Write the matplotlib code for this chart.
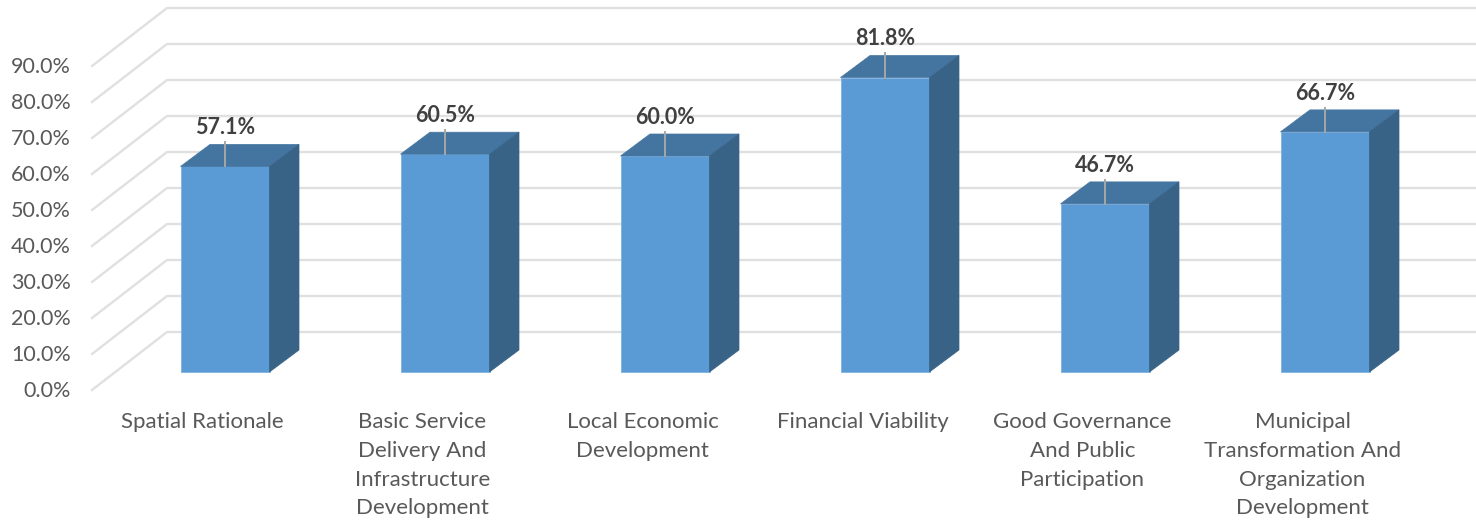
import matplotlib
matplotlib.use("Agg")
import matplotlib.pyplot as plt
from matplotlib.patches import Polygon

categories = [
    "Spatial Rationale",
    "Basic Service\nDelivery And\nInfrastructure\nDevelopment",
    "Local Economic\nDevelopment",
    "Financial Viability",
    "Good Governance\nAnd Public\nParticipation",
    "Municipal\nTransformation And\nOrganization\nDevelopment",
]
values = [57.1, 60.5, 60.0, 81.8, 46.7, 66.7]
tick_values = [0, 10, 20, 30, 40, 50, 60, 70, 80, 90]

FRONT = "#5b9bd5"
TOP = "#4475a1"
SIDE = "#386286"
GRID = "#e0e0e0"
TICK_TEXT = "#595959"
LABEL_TEXT = "#404040"

plt.rcParams["font.family"] = ["Lato", "DejaVu Sans"]

W, H = 1476, 522
fig = plt.figure(figsize=(W / 100, H / 100), dpi=100)
ax = fig.add_axes([0, 0, 1, 1])
ax.axis("off")

# One category step is 220 px and one percentage point is 3.6 px.
x_step, y_step = 220.0, 3.6
x0_px, y0_px = 225.0, 372.0
ax.set_xlim(-x0_px / x_step, (W - x0_px) / x_step)
ax.set_ylim((y0_px - H) / y_step, y0_px / y_step)

half_width = 44.5 / x_step
depth_x, depth_y = 29.5 / x_step, 22.0 / y_step

# Back wall gridlines with their slanted run along the side wall.
wall_left = -58.0 / x_step
wall_right = (1476 - x0_px) / x_step
wall_rise = 40.0 / y_step
side_dx, side_dy = 75.0 / x_step, 58.0 / y_step
for t in tick_values:
    back_y = t + wall_rise
    ax.plot([wall_left - side_dx, wall_left, wall_right],
            [back_y - side_dy, back_y, back_y],
            color=GRID, lw=1.7, solid_joinstyle="miter", zorder=1)
    ax.text(-154.0 / x_step, back_y - side_dy - 0.2, f"{t:.1f}%",
            ha="right", va="center", fontsize=15.5, color=TICK_TEXT, zorder=5)

# Extruded bars: front face, top face, side face, leader line and value label.
for i, (v, name) in enumerate(zip(values, categories)):
    l, r = i - half_width, i + half_width
    ax.add_patch(Polygon([(l, 0), (r, 0), (r, v), (l, v)], closed=True,
                         fc=FRONT, ec="#7fb2e0", lw=0.6, zorder=3))
    ax.add_patch(Polygon([(l, v), (r, v), (r + depth_x, v + depth_y), (l + depth_x, v + depth_y)],
                         closed=True, fc=TOP, ec=TOP, lw=0.5, zorder=3))
    ax.add_patch(Polygon([(r, 0), (r + depth_x, depth_y), (r + depth_x, v + depth_y), (r, v)],
                         closed=True, fc=SIDE, ec=SIDE, lw=0.5, zorder=3))
    ax.plot([i, i], [v, v + depth_y + 0.6], color="#a6a6a6", lw=1.4, zorder=4)
    ax.text(i, v + depth_y + 4.6, f"{v:.1f}%", ha="center", va="center",
            fontsize=15.5, fontweight="bold", color=LABEL_TEXT, zorder=5)
    ax.text(i - 22.5 / x_step, -11.2, name, ha="center", va="top", fontsize=16,
            color=TICK_TEXT, linespacing=1.54, zorder=5)

fig.savefig("out.png", dpi=100, facecolor="white")
